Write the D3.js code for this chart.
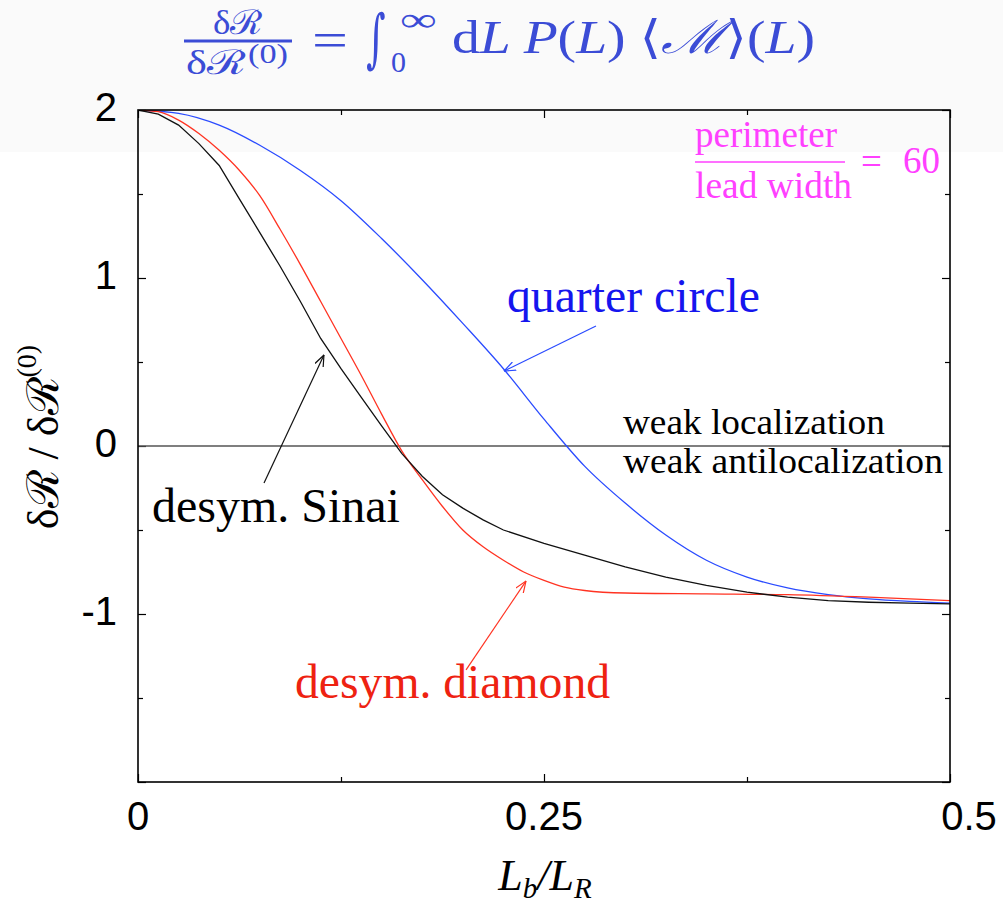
<!DOCTYPE html>
<html>
<head>
<meta charset="utf-8">
<script src="https://cdn.jsdelivr.net/npm/d3@7"></script>
<style>
  html, body { margin: 0; padding: 0; background: #fff; }
  svg { display: block; }
</style>
</head>
<body>
<svg id="chart" width="1003" height="904"></svg>
<script>
// ---- data ----
const xQuarter = [0, 0.025, 0.05, 0.075, 0.1, 0.125, 0.15, 0.175, 0.2, 0.225, 0.25, 0.275, 0.3, 0.325, 0.35, 0.375, 0.4, 0.425, 0.45, 0.475, 0.5];
const yQuarter = [2.0, 1.98, 1.91, 1.79, 1.64, 1.46, 1.235, 0.99, 0.73, 0.46, 0.16, -0.12, -0.34, -0.53, -0.68, -0.78, -0.845, -0.885, -0.91, -0.925, -0.935];

const xSinai = [0, 0.0125, 0.025, 0.0375, 0.05, 0.0625, 0.075, 0.0875, 0.1, 0.1125, 0.125, 0.1375, 0.15, 0.1625, 0.175, 0.1875, 0.2, 0.2125, 0.225, 0.25, 0.275, 0.3, 0.325, 0.35, 0.375, 0.4, 0.425, 0.45, 0.475, 0.5];
const ySinai = [2.0, 1.975, 1.91, 1.80, 1.67, 1.47, 1.27, 1.07, 0.86, 0.64, 0.46, 0.29, 0.12, -0.045, -0.18, -0.29, -0.37, -0.44, -0.50, -0.58, -0.65, -0.72, -0.78, -0.83, -0.87, -0.90, -0.92, -0.93, -0.935, -0.94];

const xDiamond = [0, 0.0125, 0.025, 0.0375, 0.05, 0.0625, 0.075, 0.0875, 0.1, 0.1125, 0.125, 0.1375, 0.15, 0.1625, 0.175, 0.1875, 0.2, 0.2125, 0.225, 0.2375, 0.25, 0.2625, 0.275, 0.3, 0.35, 0.4, 0.45, 0.5];
const yDiamond = [2.0, 1.99, 1.94, 1.86, 1.76, 1.64, 1.49, 1.29, 1.08, 0.86, 0.64, 0.42, 0.19, -0.03, -0.20, -0.36, -0.50, -0.60, -0.68, -0.75, -0.80, -0.84, -0.86, -0.875, -0.88, -0.885, -0.90, -0.92];

const xTickValues = [0, 0.125, 0.25, 0.375, 0.5];
const xTickLabels = ["0", "", "0.25", "", "0.5"];
const yTickValues = [-2, -1.5, -1, -0.5, 0, 0.5, 1, 1.5, 2];
const yTickLabels = ["", "", "-1", "", "0", "", "1", "", "2"];

// ---- layout ----
const svg = d3.select("#chart");
const W = 1003, H = 904;
const mLeft = 138, mRight = 950, mTop = 110, mBottom = 782;

const x = d3.scaleLinear().domain([0, 0.5]).range([mLeft, mRight]);
const y = d3.scaleLinear().domain([-2, 2]).range([mBottom, mTop]);

// faint grey band at the top of the picture
svg.append("rect").attr("x", 0).attr("y", 0).attr("width", W).attr("height", 152).attr("fill", "#fafafa");

const serif = "'Liberation Serif', 'Times New Roman', 'DejaVu Serif', serif";
const sans = "'Liberation Sans', Arial, Helvetica, sans-serif";

// ---- title ----
const titleColor = "#3b4cd6";
const tg = svg.append("g").attr("fill", titleColor).attr("font-family", serif);
tg.append("text").attr("x", 238).attr("y", 34).attr("text-anchor", "middle")
  .attr("font-size", 34).attr("textLength", 50).attr("lengthAdjust", "spacingAndGlyphs")
  .text("δℛ");
tg.append("line").attr("x1", 184).attr("x2", 292).attr("y1", 41).attr("y2", 41)
  .attr("stroke", titleColor).attr("stroke-width", 3);
tg.append("text").attr("x", 186).attr("y", 74)
  .attr("font-size", 34).attr("textLength", 60).attr("lengthAdjust", "spacingAndGlyphs")
  .text("δℛ");
tg.append("text").attr("x", 248).attr("y", 63)
  .attr("font-size", 27).attr("textLength", 40).attr("lengthAdjust", "spacingAndGlyphs")
  .text("(0)");
tg.append("text").attr("x", 312).attr("y", 57)
  .attr("font-size", 50).attr("textLength", 36).attr("lengthAdjust", "spacingAndGlyphs")
  .text("=");
tg.append("text").attr("transform", "translate(366,60) scale(0.85,1.45)")
  .attr("font-family", "'DejaVu Serif', serif").attr("font-size", 44)
  .text("∫");
tg.append("text").attr("x", 400).attr("y", 31)
  .attr("font-size", 34).attr("textLength", 37).attr("lengthAdjust", "spacingAndGlyphs")
  .text("∞");
tg.append("text").attr("x", 391).attr("y", 72)
  .attr("font-size", 30)
  .text("0");
const tMain = tg.append("text").attr("x", 452).attr("y", 53).attr("font-size", 46)
  .attr("textLength", 363).attr("lengthAdjust", "spacingAndGlyphs");
[["d", "normal"], ["L ", "italic"], ["P", "italic"], ["(", "normal"], ["L", "italic"], [") ", "normal"],
 ["⟨", "normal"], ["ℳ", "italic"], ["⟩(", "normal"], ["L", "italic"], [")", "normal"]]
  .forEach(([s, st]) => tMain.append("tspan").attr("font-style", st).text(s));

// ---- axes: ticks drawn inward on all four sides ----
function tickAxis(axisGen, tickVals, size, transform) {
  const g = svg.append("g").attr("transform", transform)
    .call(axisGen.tickValues(tickVals).tickSize(size).tickFormat(""));
  g.select(".domain").remove();
  g.selectAll(".tick line").attr("stroke", "#000").attr("stroke-width", 1.2);
  return g;
}
const xMajor = xTickValues.filter((d, i) => i % 2 === 0);
const xMinor = xTickValues.filter((d, i) => i % 2 === 1);
const yMajor = yTickValues.filter(d => Number.isInteger(d));
const yMinor = yTickValues.filter(d => !Number.isInteger(d));

tickAxis(d3.axisBottom(x), xMajor, -8, `translate(0,${mBottom})`);
tickAxis(d3.axisBottom(x), xMinor, -5, `translate(0,${mBottom})`);
tickAxis(d3.axisTop(x), xMajor, -8, `translate(0,${mTop})`);
tickAxis(d3.axisTop(x), xMinor, -5, `translate(0,${mTop})`);
tickAxis(d3.axisLeft(y), yMajor, -8, `translate(${mLeft},0)`);
tickAxis(d3.axisLeft(y), yMinor, -5, `translate(${mLeft},0)`);
tickAxis(d3.axisRight(y), yMajor, -8, `translate(${mRight},0)`);
tickAxis(d3.axisRight(y), yMinor, -5, `translate(${mRight},0)`);

// tick labels
svg.append("g").selectAll("text").data(xTickValues).join("text")
  .attr("x", (d, i) => x(d) + (i === xTickValues.length - 1 ? 19 : 0))
  .attr("y", 830)
  .attr("text-anchor", "middle")
  .attr("font-family", sans).attr("font-size", 40).attr("fill", "#000")
  .text((d, i) => xTickLabels[i]);
svg.append("g").selectAll("text").data(yTickValues).join("text")
  .attr("x", 117)
  .attr("y", d => y(d) + 11)
  .attr("text-anchor", "end")
  .attr("font-family", sans).attr("font-size", 40).attr("fill", "#000")
  .text((d, i) => yTickLabels[i]);

// axis titles
const xl = svg.append("text").attr("x", 545).attr("y", 890).attr("text-anchor", "middle")
  .attr("font-family", serif).attr("font-size", 44).attr("font-style", "italic").attr("fill", "#000");
xl.append("tspan").text("L");
xl.append("tspan").attr("font-size", 29).attr("dy", 8).text("b");
xl.append("tspan").attr("dy", -8).text("/L");
xl.append("tspan").attr("font-size", 29).attr("dy", 8).text("R");

const yl = svg.append("text").attr("transform", "translate(58,437) rotate(-90)").attr("text-anchor", "middle")
  .attr("font-family", serif).attr("font-size", 44).attr("fill", "#000");
yl.append("tspan").text("δℛ / δℛ");
yl.append("tspan").attr("font-size", 28).attr("dy", -22).text("(0)");

// ---- zero line ----
svg.append("line")
  .attr("x1", x(0)).attr("x2", x(0.5)).attr("y1", y(0)).attr("y2", y(0))
  .attr("stroke", "#555").attr("stroke-width", 1.3);

// ---- curves ----
const defs = svg.append("defs");
defs.append("clipPath").attr("id", "plotclip").append("rect")
  .attr("x", mLeft).attr("y", mTop).attr("width", mRight - mLeft).attr("height", mBottom - mTop);

function drawCurve(xs, ys, color, curve) {
  const pts = xs.map((d, i) => [d, ys[i]]);
  svg.append("path").datum(pts)
    .attr("clip-path", "url(#plotclip)")
    .attr("fill", "none").attr("stroke", color).attr("stroke-width", 1.3)
    .attr("d", d3.line().x(d => x(d[0])).y(d => y(d[1])).curve(curve));
}
drawCurve(xQuarter, yQuarter, "#2a4bff", d3.curveMonotoneX);
drawCurve(xDiamond, yDiamond, "#ff3322", d3.curveMonotoneX);
drawCurve(xSinai, ySinai, "#111", d3.curveLinear);

// ---- frame ----
svg.append("rect").attr("x", mLeft).attr("y", mTop).attr("width", mRight - mLeft).attr("height", mBottom - mTop)
  .attr("fill", "none").attr("stroke", "#000").attr("stroke-width", 1.6);

// ---- annotations ----
function marker(id, color) {
  defs.append("marker").attr("id", id).attr("viewBox", "0 0 12 10")
    .attr("refX", 11.5).attr("refY", 5).attr("markerWidth", 12).attr("markerHeight", 10)
    .attr("markerUnits", "userSpaceOnUse").attr("orient", "auto")
    .append("path").attr("d", "M0,0.5 L11.5,5 L0,9.5").attr("fill", "none")
    .attr("stroke", color).attr("stroke-width", 1.2);
}
marker("arrB", "#2a4bff");
marker("arrK", "#111");
marker("arrR", "#ff3322");

function arrow(x0, y0, x1, y1, color, id) {
  svg.append("line").attr("x1", x(x0)).attr("y1", y(y0)).attr("x2", x(x1)).attr("y2", y(y1))
    .attr("stroke", color).attr("stroke-width", 1.2).attr("marker-end", `url(#${id})`);
}
arrow(0.282, 0.714, 0.2254, 0.446, "#2a4bff", "arrB");
arrow(0.0776, -0.22, 0.1145, 0.542, "#111", "arrK");
arrow(0.202, -1.333, 0.2389, -0.804, "#ff3322", "arrR");

function label(xv, yv, txt, color, size, len) {
  const t = svg.append("text").attr("x", x(xv)).attr("y", y(yv))
    .attr("font-family", serif).attr("font-size", size).attr("fill", color).text(txt);
  if (len) t.attr("textLength", len).attr("lengthAdjust", "spacingAndGlyphs");
}
label(0.2272, 0.798, "quarter circle", "#1515ee", 48, 253);
label(0.0086, -0.452, "desym. Sinai", "#000", 48, 248);
label(0.0967, -1.50, "desym. diamond", "#ee2211", 48, 315);
label(0.2986, 0.071, "weak localization", "#000", 36, 262);
label(0.2986, -0.161, "weak antilocalization", "#000", 36, 320);

// ratio annotation (magenta)
const mag = "#ff40ff";
svg.append("text").attr("x", 695).attr("y", 147).attr("font-family", serif).attr("font-size", 37)
  .attr("fill", mag).attr("textLength", 142).attr("lengthAdjust", "spacingAndGlyphs").text("perimeter");
svg.append("line").attr("x1", 695).attr("x2", 845).attr("y1", 162).attr("y2", 162)
  .attr("stroke", mag).attr("stroke-width", 1.5);
svg.append("text").attr("x", 695).attr("y", 198).attr("font-family", serif).attr("font-size", 37)
  .attr("fill", mag).attr("textLength", 157).attr("lengthAdjust", "spacingAndGlyphs").text("lead width");
svg.append("text").attr("x", 861).attr("y", 174).attr("font-family", serif).attr("font-size", 37)
  .attr("fill", mag).text("=");
svg.append("text").attr("x", 903).attr("y", 173).attr("font-family", serif).attr("font-size", 37)
  .attr("fill", mag).attr("textLength", 37).attr("lengthAdjust", "spacingAndGlyphs").text("60");
</script>
</body>
</html>
